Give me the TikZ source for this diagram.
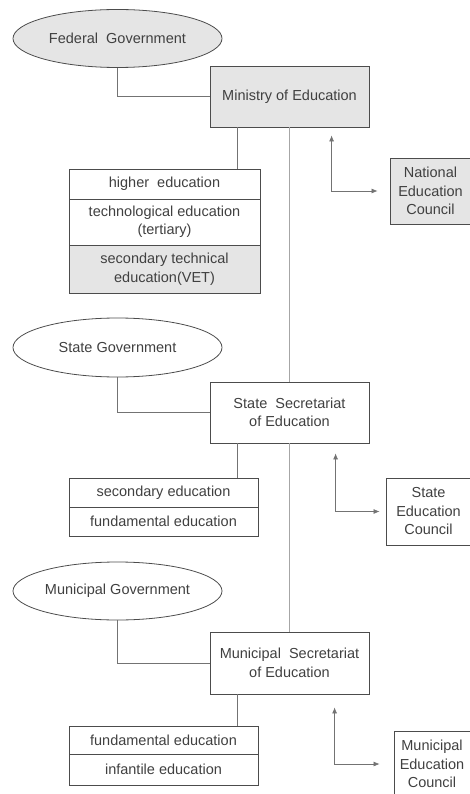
\documentclass[tikz,border=0pt]{standalone}
\usepackage{fontspec}
\setmainfont{Liberation Sans}
\usetikzlibrary{shapes.geometric,arrows.meta}

\begin{document}
\begin{tikzpicture}[x=1pt,y=-1pt,
                every node/.style={font=\fontsize{14.5}{18.5}\selectfont, text=black!75, align=center, inner sep=0pt},
                govt/.style={ellipse, draw=black!70, line width=0.8pt, minimum width=209pt, minimum height=58pt},
                office/.style={draw=black!70, line width=0.8pt, minimum width=159pt, minimum height=61pt},
                level/.style={draw=black!70, line width=0.8pt, minimum width=189pt},
                council/.style={draw=black!70, line width=0.8pt, minimum width=80pt, minimum height=66pt},
                shade/.style={fill=black!10},
                link/.style={draw=black!55, line width=0.8pt},
                spine/.style={draw=black!35, line width=0.8pt},
                duct/.style={draw=black!55, line width=0.7pt, {Latex[length=6pt,width=5pt]}-{Latex[length=6pt,width=5pt]}}]
                \useasboundingbox (0,0) rectangle (469,794);
                % federal level
                \node[govt,shade] (fedgov) at (117.5,38.5) {Federal\ \ Government};
                \node[office,shade] (moe) at (289.5,96.5) {Ministry of Education};
                \node[level,minimum width=191pt,minimum height=30pt] (higher) at (164.5,184) {higher\ \ education};
                \node[level,minimum width=191pt,minimum height=46pt] (tech) at (164.5,222) {technological education\\(tertiary)};
                \node[level,shade,minimum width=191pt,minimum height=48pt] (vet) at (164.5,269) {secondary technical\\education(VET)};
                \node[council,shade,minimum width=81pt] (nec) at (430.5,191) {National\\Education\\Council};
                % state level
                \node[govt,minimum height=59pt] (stgov) at (117.5,347.5) {State Government};
                \node[office] (sse) at (289.5,412.5) {State\ \ Secretariat\\of Education};
                \node[level,minimum height=29pt] (secedu) at (163.5,492.5) {secondary education};
                \node[level,minimum height=29pt] (fund) at (163.5,521.5) {fundamental education};
                \node[council,minimum width=85pt,minimum height=67pt] (sec) at (428.5,511.5) {State\\Education\\Council};
                % municipal level
                \node[govt] (mugov) at (117.5,591) {Municipal Government};
                \node[office,minimum height=62pt] (mse) at (289.5,663) {Municipal\ \ Secretariat\\of Education};
                \node[level,minimum height=28pt] (fundm) at (163.5,740) {fundamental education};
                \node[level,minimum height=31pt] (inf) at (163.5,769.5) {infantile education};
                \node[council,minimum width=76pt] (mec) at (432,764) {Municipal\\Education\\Council};
                % connectors
                \draw[link] (fedgov.south) |- (moe.west);
                \draw[link] (stgov.south) |- (sse.west);
                \draw[link] (mugov.south) |- (mse.west);
                \coordinate (moedrop) at ([xshift=28pt]moe.south west);
                \coordinate (ssedrop) at ([xshift=28pt]sse.south west);
                \coordinate (msedrop) at ([xshift=28pt]mse.south west);
                \draw[link] (moedrop) -- (moedrop |- higher.north);
                \draw[link] (ssedrop) -- (ssedrop |- secedu.north);
                \draw[link] (msedrop) -- (msedrop |- fundm.north);
                \draw[spine] (moe.south) -- (sse.north);
                \draw[spine] (sse.south) -- (mse.north);
                \draw[duct,shorten <=8pt,shorten >=12pt] ([xshift=122pt]moe.south west) |- (nec.west);
                \draw[duct,shorten <=10pt,shorten >=6pt] ([xshift=126pt]sse.south west) |- (sec.west);
                \draw[duct,shorten <=13pt,shorten >=14pt] ([xshift=125pt]mse.south west) |- (mec.west);
            \end{tikzpicture}
\end{document}
